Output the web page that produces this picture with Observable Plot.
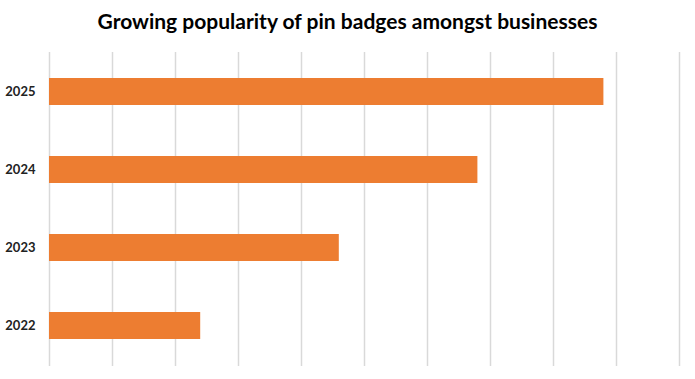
<!DOCTYPE html>
<html>
<head>
<meta charset="utf-8">
<script src="https://cdn.jsdelivr.net/npm/d3@7"></script>
<script src="https://cdn.jsdelivr.net/npm/@observablehq/plot@0.6"></script>
<style>
  html, body { margin: 0; padding: 0; background: #fff; }
  #title { height: 40px; line-height: 42px; text-align: center; font-family: Lato, "Open Sans", sans-serif; font-weight: bold; font-size: 21px; color: #000; }
</style>
</head>
<body>
<div id="title">Growing popularity of pin badges amongst businesses</div>
<div id="chart"></div>
<script>
const years = ["2025", "2024", "2023", "2022"];
const values = [88, 68, 46, 24];
const gridTicks = [0, 10, 20, 30, 40, 50, 60, 70, 80, 90, 100];

const data = years.map((y, i) => ({year: y, value: values[i]}));

const chart = Plot.plot({
  width: 695,
  height: 339,
  marginTop: 12,
  marginBottom: 13,
  marginLeft: 49,
  marginRight: 16,
  style: {fontFamily: "Lato, sans-serif", background: "#fff"},
  x: {domain: [0, 100], axis: null},
  y: {domain: years, paddingInner: 0.65, paddingOuter: 0.325, label: null},
  marks: [
    Plot.ruleX(gridTicks, {stroke: "#d9d9d9", strokeWidth: 1.5}),
    Plot.barX(data, {y: "year", x: "value", fill: "#ED7D31"}),
    Plot.axisY({tickSize: 0, tickPadding: 14, fontSize: 13, fontWeight: "bold", fill: "#222", label: null})
  ]
});
document.getElementById("chart").appendChild(chart);
</script>
</body>
</html>
